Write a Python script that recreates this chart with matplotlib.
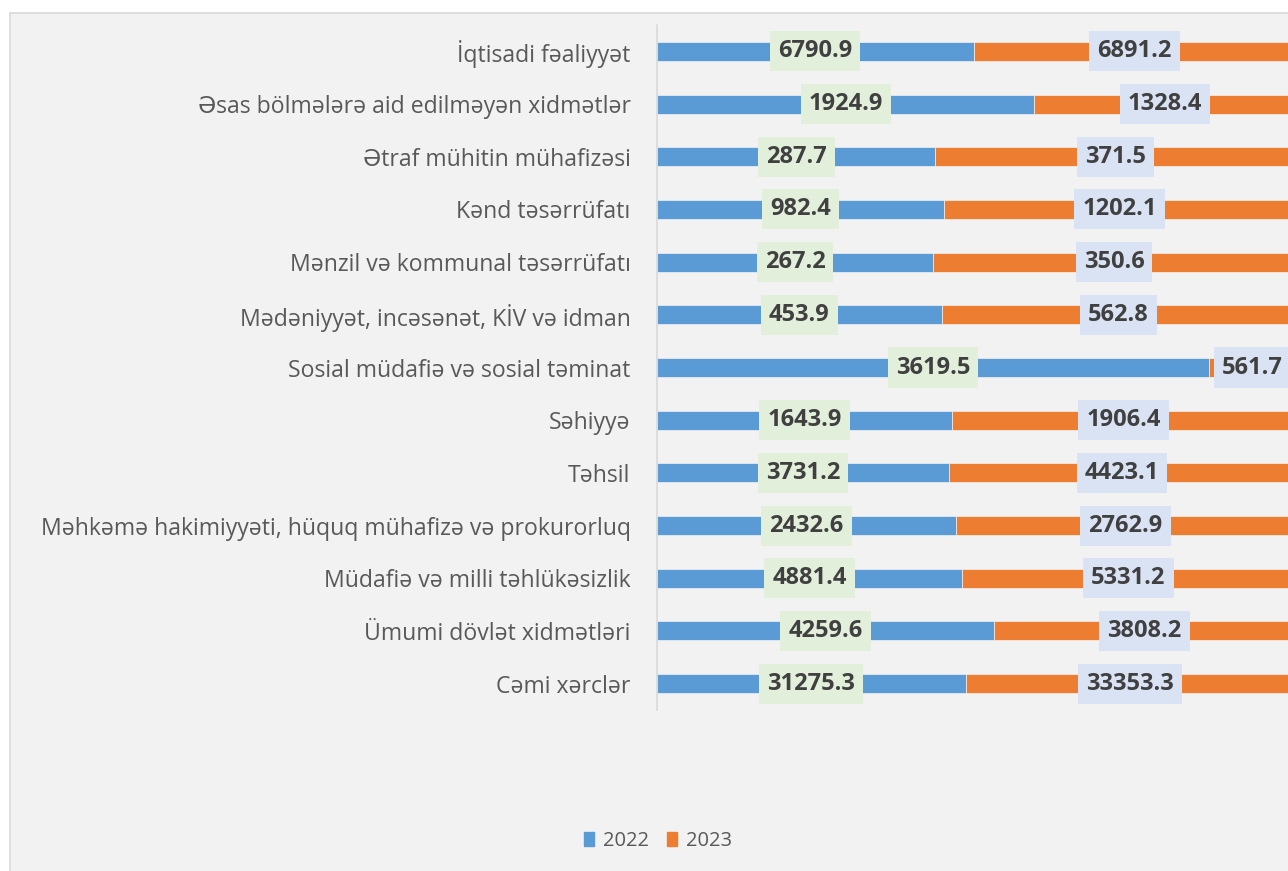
import matplotlib
matplotlib.use("Agg")
import matplotlib.pyplot as plt
from matplotlib.patches import Rectangle
import numpy as np

# Kateqoriyalar (yuxaridan asagiya)
categories = [
    "İqtisadi fəaliyyət",
    "Əsas bölmələrə aid edilməyən xidmətlər",
    "Ətraf mühitin mühafizəsi",
    "Kənd təsərrüfatı",
    "Mənzil və kommunal təsərrüfatı",
    "Mədəniyyət, incəsənət, KİV və idman",
    "Sosial müdafiə və sosial təminat",
    "Səhiyyə",
    "Təhsil",
    "Məhkəmə hakimiyyəti, hüquq mühafizə və prokurorluq",
    "Müdafiə və milli təhlükəsizlik",
    "Ümumi dövlət xidmətləri",
    "Cəmi xərclər",
]
values_2022 = [6790.9, 1924.9, 287.7, 982.4, 267.2, 453.9, 3619.5,
               1643.9, 3731.2, 2432.6, 4881.4, 4259.6, 31275.3]
values_2023 = [6891.2, 1328.4, 371.5, 1202.1, 350.6, 562.8, 561.7,
               1906.4, 4423.1, 2762.9, 5331.2, 3808.2, 33353.3]

C_BLUE = "#5B9BD5"
C_ORANGE = "#ED7D31"
C_BOX1 = "#E2EFDA"
C_BOX2 = "#DAE3F3"
C_TEXT = "#595959"
C_VAL = "#404040"

CAT_FONT = ["Open Sans", "DejaVu Sans"]

W, H = 1288, 871
fig = plt.figure(figsize=(W / 100, H / 100), dpi=100)
fig.patch.set_facecolor("white")
fig.patches.append(Rectangle((10 / W, -0.01), 1.0, 1 - 13 / H + 0.01,
                             transform=fig.transFigure, facecolor="#F2F2F2",
                             edgecolor="#D9D9D9", linewidth=1.2, zorder=-10))

ax = fig.add_axes([657 / W, (H - 710) / H, 638 / W, 685 / H])
ax.set_facecolor("none")

a = np.array(values_2022)
b = np.array(values_2023)
tot = a + b
p1 = a / tot
p2 = b / tot
y = np.arange(len(categories))[::-1]

ax.barh(y, p1, height=0.36, color=C_BLUE, edgecolor="#F2F2F2", linewidth=0.5, zorder=2)
ax.barh(y, p2, left=p1, height=0.36, color=C_ORANGE, edgecolor="#F2F2F2", linewidth=0.5, zorder=2)

for yi, v1, v2, s1, s2 in zip(y, a, b, p1, p2):
    ax.text(s1 / 2, yi, f"{v1:.1f}", ha="center", va="center", fontsize=17,
            fontweight="bold", family=CAT_FONT, color=C_VAL, zorder=5,
            bbox=dict(boxstyle="square,pad=0.34", fc=C_BOX1, ec="none"))
    ax.text(s1 + s2 / 2, yi, f"{v2:.1f}", ha="center", va="center", fontsize=17,
            fontweight="bold", family=CAT_FONT, color=C_VAL, zorder=5,
            bbox=dict(boxstyle="square,pad=0.34", fc=C_BOX2, ec="none"))

ax.set_xlim(0, 1)
ax.set_ylim(-0.5, len(categories) - 0.5)
ax.set_yticks(y)
ax.set_yticklabels(categories, fontsize=16.6, family=CAT_FONT, color=C_TEXT)
ax.tick_params(axis="y", length=0, pad=19)
ax.set_xticks([])
for side in ["top", "right", "bottom"]:
    ax.spines[side].set_visible(False)
ax.spines["left"].set_color("#D9D9D9")
ax.spines["left"].set_linewidth(1.2)

h1 = Rectangle((0, 0), 1, 1, color=C_BLUE)
h2 = Rectangle((0, 0), 1, 1, color=C_ORANGE)
leg = fig.legend([h1, h2], ["2022", "2023"], loc="center",
                 bbox_to_anchor=(658 / W, 1 - 841 / H), ncol=2, frameon=False,
                 handlelength=0.5, handleheight=0.7, handletextpad=0.45,
                 columnspacing=0.9, prop={"family": CAT_FONT, "size": 14.5})
for t in leg.get_texts():
    t.set_color(C_TEXT)

fig.savefig("out.png", dpi=100, facecolor=fig.get_facecolor())
